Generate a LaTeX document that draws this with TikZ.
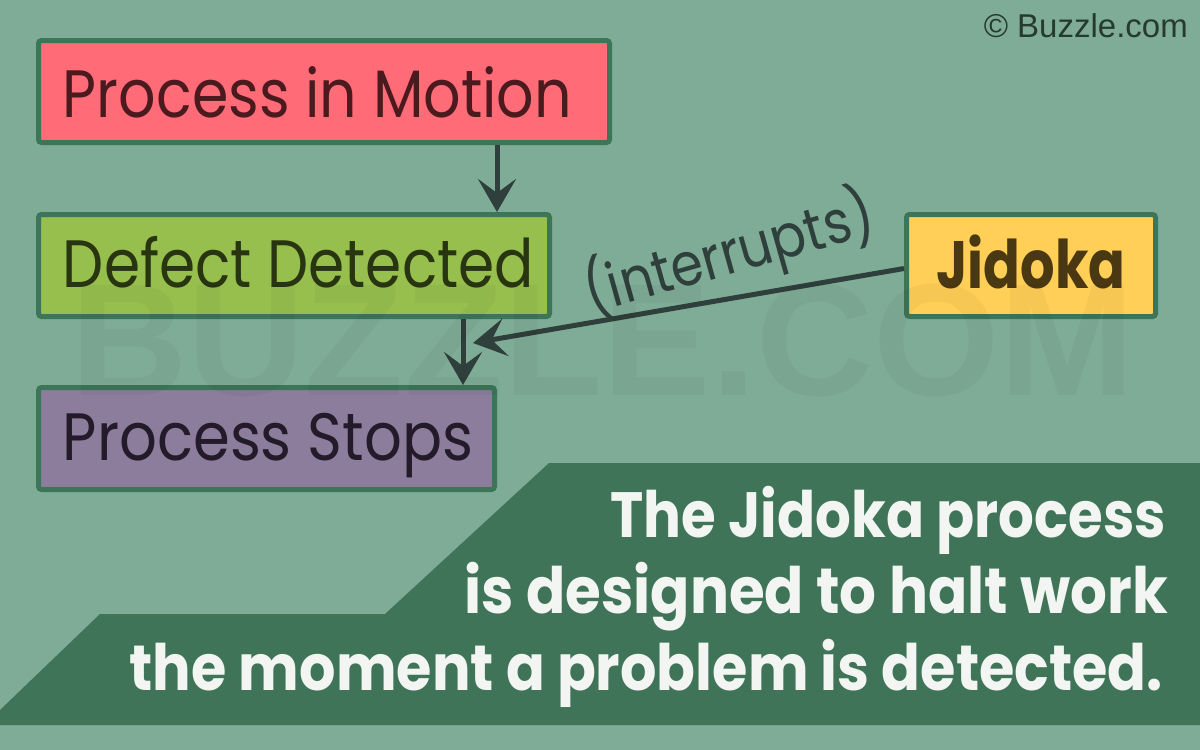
\documentclass[tikz,border=0pt]{standalone}
\usepackage{fontspec}
\usepackage{graphicx}
\setmainfont{Poppins}
\newfontfamily\arialf{Liberation Sans}
\usetikzlibrary{arrows.meta,calc}
\definecolor{bgc}{HTML}{7FAC96}
\definecolor{boxline}{HTML}{3D7558}
\definecolor{redf}{HTML}{FF6B76}
\definecolor{redt}{HTML}{4B1A1E}
\definecolor{greenf}{HTML}{97BF4D}
\definecolor{greent}{HTML}{283510}
\definecolor{purplef}{HTML}{8D7D9D}
\definecolor{purplet}{HTML}{231A2A}
\definecolor{yellowf}{HTML}{FFCF57}
\definecolor{yellowt}{HTML}{4A3812}
\definecolor{panel}{HTML}{3F7459}
\definecolor{panelt}{HTML}{F2F5F2}
\definecolor{arrowc}{HTML}{2F3F3C}
\definecolor{copyc}{HTML}{263A30}
\newcommand\fitw[2]{\resizebox{#1}{\height}{#2}}
\tikzset{
  stepbox/.style={draw=boxline, line width=5pt, rounded corners=3pt, minimum height=102pt, inner xsep=24.5pt, inner ysep=0pt, text depth=0pt, font=\fontsize{67}{67}\selectfont},
  flowarrow/.style={draw=arrowc, line width=5pt, -{Stealth[length=33pt,width=38pt,inset=14pt]}},
  paneltext/.style={anchor=base east, text=panelt, inner sep=0pt, font=\fontsize{64}{64}\selectfont\bfseries}
}
\begin{document}
\begin{tikzpicture}[x=1pt,y=-1pt]
\fill[bgc] (0,0) rectangle (1200,750);
\useasboundingbox (0,0) rectangle (1200,750);
% bottom panel
\fill[panel] (0,710) -- (100,614) -- (385,614) -- (549,463) -- (1200,463) -- (1200,725) -- (0,725) -- cycle;
% boxes
\node[stepbox, fill=redf, text=redt, minimum width=571pt, text height=51pt] (pm) at (324,91.5) {\makebox[522pt][l]{\fitw{509pt}{Process in Motion}}};
\node[stepbox, fill=greenf, text=greent, minimum width=511pt, text height=43pt] (dd) at (294,265.5) {\makebox[462pt][l]{\fitw{471pt}{Defect Detected}}};
\node[stepbox, fill=purplef, text=purplet, minimum width=456pt, text height=43pt] (ps) at (266.5,438.5) {\makebox[407pt][l]{\fitw{410pt}{Process Stops}}};
\node[stepbox, fill=yellowf, text=yellowt, minimum width=249pt, text height=45pt, inner xsep=0pt] (jid) at (1031,265.5) {\fitw{189pt}{\bfseries Jidoka}};
% connectors
\coordinate (hit) at (473,343);
\draw[flowarrow] ([xshift=173pt]pm.south) -- ([xshift=173pt]pm.south |- dd.north);
\draw[flowarrow] ([xshift=169pt]dd.south) -- ([xshift=169pt]dd.south |- ps.north);
\draw[flowarrow] ([yshift=-3pt]jid.west) -- (hit);
\node[text=arrowc, rotate=15.7, inner sep=0pt, font=\fontsize{60}{60}\selectfont] (lbl) at (729,254) {\fitw{298pt}{(interrupts)}};
% panel text
\node[paneltext] (t1) at (1166,537) {\fitw{555pt}{The Jidoka process}};
\node[paneltext] (t2) at (1168,613) {\fitw{703pt}{is designed to halt work}};
\node[paneltext] (t3) at (1163,690) {\fitw{1033pt}{the moment a problem is detected.}};
% copyright
\node[anchor=base east, text=copyc, inner sep=0pt, font=\arialf\fontsize{33}{33}\selectfont] (copy) at (1188,37) {\textcopyright{} Buzzle.com};
% watermark
\node[anchor=base west, inner sep=0pt, text=black, text opacity=0.035, font=\arialf\bfseries\fontsize{160}{160}\selectfont] (wm) at (70,395) {\fitw{1065pt}{BUZZLE.COM}};
\end{tikzpicture}
\end{document}
